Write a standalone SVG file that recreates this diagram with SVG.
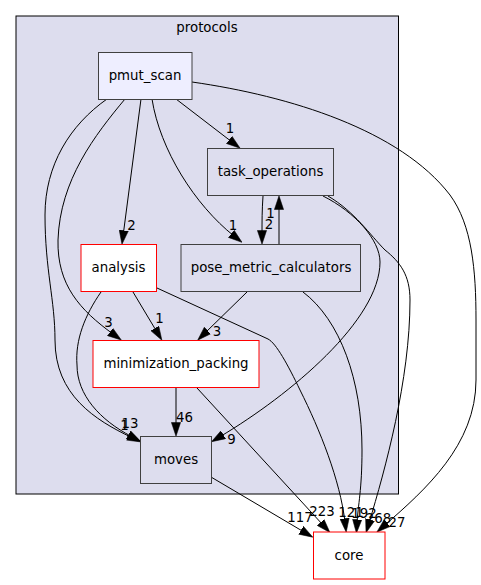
<svg xmlns="http://www.w3.org/2000/svg" width="481" height="585" viewBox="0 0 481 585">
<style>
text{font-family:"DejaVu Sans","Liberation Sans",sans-serif;font-size:13.33px;fill:#000;text-anchor:middle}
.lbl{font-size:13.33px}
.n{stroke:#404040;stroke-width:1;fill:#ddddee}
.r{stroke:#ff0000;stroke-width:1;fill:#ffffff}
.e{fill:none;stroke:#000;stroke-width:1;marker-end:url(#ah)}
</style>
<defs>
<marker id="ah" markerUnits="userSpaceOnUse" markerWidth="14" markerHeight="10" viewBox="0 0 13.4 9.4" refX="3.4" refY="4.7" orient="auto">
<path d="M0,0.3 L13.2,4.7 L0,9.1 z" fill="#000" stroke="#000" stroke-width="0.5"/>
</marker>
</defs>
<rect width="481" height="585" fill="#fff"/>
<g id="cluster_protocols">
<rect x="16" y="16" width="382.5" height="478" fill="#ddddee" stroke="#000"/>
<text x="207" y="31.5">protocols</text>
</g>
<g id="edges">
<path class="e" d="M176,99 L232,142"/>
<path class="e" d="M192,82 C290,96 400,130 450,195 C472,225 476,270 476,320 L476,380 C476,445 425,490 384.5,525.4"/>
<path class="e" d="M141,99 L123.3,234"/>
<path class="e" d="M152,99 C160,150 195,205 234,236"/>
<path class="e" d="M125,99 C95,135 60,180 58,240 C57,285 80,310 113,334"/>
<path class="e" d="M107,99 C70,125 45,165 45,215 C45,270 55,300 55,340 C55,395 95,420 131.7,437.5"/>
<path class="e" d="M263,196 C262,210 262,222 262,234"/>
<path class="e" d="M279,244 L279,206"/>
<path class="e" d="M323,196 C355,212 380,240 380,262 C380,320 290,395 220.3,436.5"/>
<path class="e" d="M328,196 C355,212 370,235 385,250 C400,262 410,275 410,300 C410,380 385,470 369,523"/>
<path class="e" d="M133,292 L156.6,331.4"/>
<path class="e" d="M101,292 C85,315 75,340 77,365 C77,395 100,420 131.5,436.5"/>
<path class="e" d="M157,288 L268,339 C276,343 288,365 300,390 C320,430 340,480 345,522"/>
<path class="e" d="M247,292 L205,333"/>
<path class="e" d="M303,292 C340,320 362,380 362,450 C362,490 358,505 357,523"/>
<path class="e" d="M176,387 L176,426"/>
<path class="e" d="M197,388 L323,525"/>
<path class="e" d="M211,477 L304,532"/>
<text class="lbl" x="230" y="133">1</text>
<text class="lbl" x="131.5" y="229.5">2</text>
<text class="lbl" x="233" y="229.5">1</text>
<text class="lbl" x="270.5" y="217.5">1</text>
<text class="lbl" x="269" y="229">2</text>
<text class="lbl" x="108.5" y="327">3</text>
<text class="lbl" x="159.5" y="323">1</text>
<text class="lbl" x="217" y="336">3</text>
<text class="lbl" x="184.5" y="421.5">46</text>
<text class="lbl" x="231.5" y="444">9</text>
<text class="lbl" x="124.5" y="430">1</text>
<text class="lbl" x="130" y="428">13</text>
<text class="lbl" x="300" y="522">117</text>
<text class="lbl" x="322" y="516">223</text>
<text class="lbl" x="351" y="517">121</text>
<text class="lbl" x="364" y="518">192</text>
<text class="lbl" x="378.5" y="523">268</text>
<text class="lbl" x="397" y="527">27</text>
</g>
<g id="node_pmut_scan">
<rect x="98.5" y="52.5" width="93.5" height="47" fill="#eeeeff" stroke="#404040"/>
<text x="145" y="80">pmut_scan</text>
</g>
<g id="node_task_operations">
<rect class="n" x="207.5" y="148.5" width="126" height="47"/>
<text x="270.5" y="176">task_operations</text>
</g>
<g id="node_analysis">
<rect class="r" x="81" y="244.5" width="75.5" height="47"/>
<text x="118.5" y="272">analysis</text>
</g>
<g id="node_pose_metric_calculators">
<rect class="n" x="181" y="244.5" width="179.5" height="47"/>
<text x="271" y="272">pose_metric_calculators</text>
</g>
<g id="node_minimization_packing">
<rect class="r" x="93" y="340.5" width="166" height="47"/>
<text x="176" y="368">minimization_packing</text>
</g>
<g id="node_moves">
<rect class="n" x="140.5" y="436.5" width="71" height="47"/>
<text x="176" y="464">moves</text>
</g>
<g id="node_core">
<rect class="r" x="313.5" y="532" width="71.5" height="47"/>
<text x="349" y="560">core</text>
</g>
</svg>
